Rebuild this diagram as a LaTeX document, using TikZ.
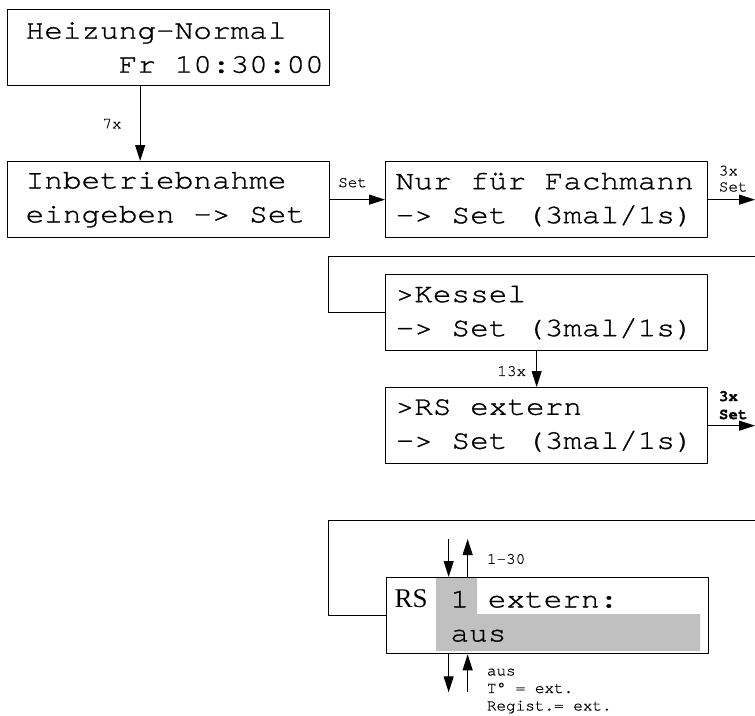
\documentclass[tikz,border=0pt]{standalone}
\usepackage{fontspec}
\usetikzlibrary{arrows.meta}
\newfontfamily\lcdfont{texgyrecursor-regular.otf}[FakeStretch=1.15,FakeBold=1]
\newfontfamily\kleinfont{texgyrecursor-regular.otf}[FakeBold=0.5,BoldFont=texgyrecursor-bold.otf]
\newfontfamily\rsfont{Liberation Serif}
\definecolor{grau}{RGB}{192,192,192}
\newcommand\lcdschrift{\lcdfont\fontsize{27}{34}\selectfont}
\newcommand\kleinschrift[1]{\kleinfont\fontsize{16}{#1}\selectfont}
\begin{document}
\begin{tikzpicture}[x=1pt,y=-1pt,line join=round,
	lcd/.style 2 args={draw,line width=1.3pt,anchor=north west,inner xsep=#1,inner ysep=0pt,
		text width=#2,minimum height=76pt,align=flush left,font=\lcdschrift,
		execute at begin node={\spaceskip=18.63pt\xspaceskip=18.63pt}},% eine Zelle
	pfeil/.style={line width=1pt,-{Triangle[length=16pt,width=10pt]}},
	linie/.style={line width=1pt},
	klein/.style={font=\kleinschrift{16},inner sep=0pt,align=flush left,
		execute at begin node={\spaceskip=9.6pt\xspaceskip=9.6pt}}]
	\useasboundingbox (0,0) rectangle (755,715);
	\coordinate (rand) at (755,0);
	%Anzeigen
	\node[lcd={18pt}{286pt}] (heiz) at (7,9) {Heizung-Normal\\\mbox{\phantom{Heizu}Fr 10:30:00}};
	\node[lcd={18pt}{286pt}] (inbetr) at (7,161) {Inbetriebnahme\\eingeben -> Set};
	\node[lcd={10pt}{302pt}] (fach) at (385,161) {Nur für Fachmann\\-> Set (3mal/1s)};
	\node[lcd={10pt}{302pt}] (kessel) at (385,274) {>Kessel\\-> Set (3mal/1s)};
	\node[lcd={10pt}{302pt}] (rsext) at (385,387) {>RS extern\\-> Set (3mal/1s)};
	\fill[grau] (436,577) rectangle (477,614) (436,614) rectangle (700,651);%Cursor
	\node[lcd={8pt}{306pt}] (rs) at (386,577) {\makebox[37.26pt][l]{\rsfont RS} 1 extern:\\\phantom{000}aus};
	%Pfeile
	\draw[pfeil] ([xshift=-28.5pt]heiz.south) -- ([xshift=-28.5pt]inbetr.north)
		node[klein,midway,left=18pt] (n7x) {7x};
	\draw[pfeil] (inbetr) -- (fach) node[klein,midway,yshift=17pt,xshift=-5pt] (nset) {Set};
	\draw[pfeil] (fach.east) -- (fach.east -| rand)
		node[klein,pos=0,anchor=west,xshift=10pt,yshift=21pt] (n3xa) {3x\\Set};
	\draw[pfeil] ([xshift=-10pt]kessel.south) -- ([xshift=-10pt]rsext.north)
		node[klein,midway,left=10pt,yshift=-2pt] (n13x) {13x};
	\draw[pfeil] (rsext.east) -- (rsext.east -| rand)
		node[klein,pos=0,anchor=west,xshift=10pt,yshift=20.5pt,font=\kleinschrift{18}\bfseries] (n3xb) {3x\\Set};
	%Rücksprung
	\foreach \y/\z in {256/kessel,520/rs} \draw[linie] (rand |- 0,\y) -- (328,\y) |- (\z.west);
	%auf/ab
	\foreach \a/\s/\e in {north/38/0,south/0/-38}{
		\draw[pfeil] ([xshift=-99pt,yshift=\s pt]rs.\a) -- ([xshift=-99pt,yshift=\e pt]rs.\a);
		\draw[pfeil] ([xshift=-80pt,yshift=\e pt]rs.\a) -- ([xshift=-80pt,yshift=\s pt]rs.\a);
	}
	\node[klein,anchor=west] (bereich) at (486.7,559) {1-30};
	\node[klein,anchor=west,font=\kleinschrift{17.5}] (werte) at (486.7,691)
		{aus\\T° = ext.\\Regist.= ext.};
\end{tikzpicture}
\end{document}
